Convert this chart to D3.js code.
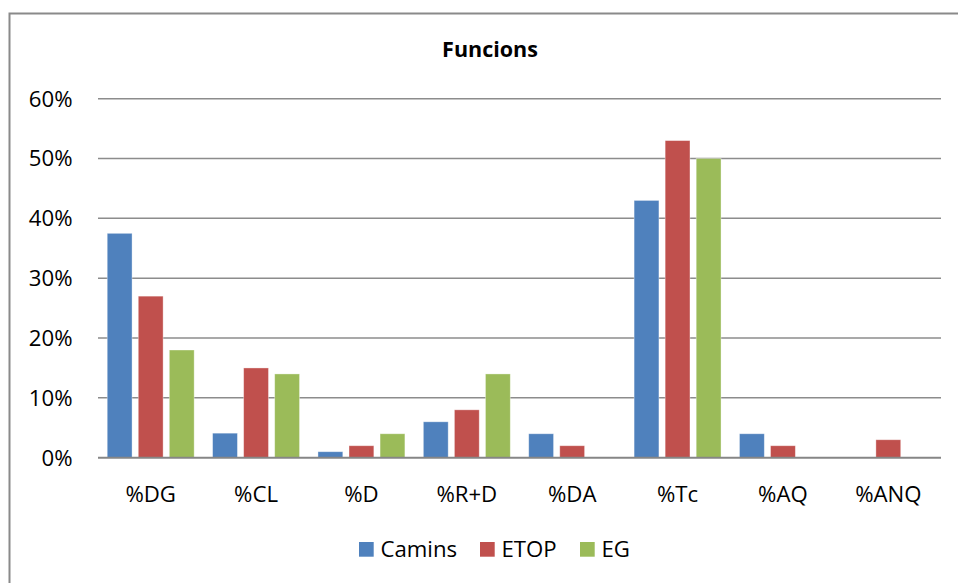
<!DOCTYPE html>
<html><head><meta charset="utf-8">
<script src="https://cdn.jsdelivr.net/npm/d3@7"></script>
<style>
html,body{margin:0;padding:0;background:#fff;}
svg{display:block;font-family:"Open Sans",sans-serif;}
</style></head>
<body>
<svg id="chart" width="958" height="583"></svg>
<script>
const categories = ["%DG","%CL","%D","%R+D","%DA","%Tc","%AQ","%ANQ"];
const seriesNames = ["Camins","ETOP","EG"];
const camins = [37.5, 4.1, 1, 6, 4, 43, 4, 0];
const etop = [27, 15, 2, 8, 2, 53, 2, 3];
const eg = [18, 14, 4, 14, 0, 50, 0, 0];
const colors = ["#4F81BD","#C0504D","#9BBB59"];
const yTicks = [0,10,20,30,40,50,60];
const title = "Funcions";

(function(){
const values = [camins, etop, eg];
const svg = d3.select("#chart");
const fs = 22.2;

// chart border (cropped at right/bottom)
svg.append("rect").attr("x",9.5).attr("y",13.5).attr("width",1000).attr("height",700)
  .attr("fill","none").attr("stroke","#8a8a8a").attr("stroke-width",2);

const pLeft = 98, pRight = 941, pTop = 98.7, pBottom = 457.7;
const x0 = d3.scaleBand().domain(categories).range([pLeft,pRight]).paddingInner(0.175).paddingOuter(0.0875);
const x1 = d3.scaleBand().domain(seriesNames).range([0,x0.bandwidth()]).paddingInner(0.2).paddingOuter(0);
const y = d3.scaleLinear().domain([0,60]).range([pBottom,pTop]);

// gridlines
svg.append("g").selectAll("line").data(yTicks.filter(d=>d>0)).join("line")
  .attr("x1",pLeft).attr("x2",pRight).attr("y1",d=>y(d)).attr("y2",d=>y(d))
  .attr("stroke","#8c8c8c").attr("stroke-width",1.5);

// y labels
svg.append("g").selectAll("text").data(yTicks).join("text")
  .attr("x",72.5).attr("y",d=>y(d)).attr("dy","0.355em").attr("text-anchor","end")
  .attr("font-size",fs).attr("fill","#000").text(d=>d+"%");

// bars
const groups = svg.append("g").selectAll("g").data(categories).join("g")
  .attr("transform",d=>`translate(${x0(d)},0)`);
groups.selectAll("rect").data((c,i)=>seriesNames.map((s,j)=>({s,j,v:values[j][i]})))
  .join("rect")
  .attr("x",d=>x1(d.s)).attr("width",x1.bandwidth())
  .attr("y",d=>y(d.v)).attr("height",d=>pBottom-y(d.v))
  .attr("fill",d=>colors[d.j])
  .attr("stroke",d=>d.v>0?"rgba(255,255,255,0.45)":"none").attr("stroke-width",0.8);

// x axis baseline
svg.append("line").attr("x1",pLeft).attr("x2",pRight).attr("y1",pBottom).attr("y2",pBottom)
  .attr("stroke","#868686").attr("stroke-width",2);

// x labels
svg.append("g").selectAll("text").data(categories).join("text")
  .attr("x",d=>x0(d)+x0.bandwidth()/2).attr("y",501.5).attr("text-anchor","middle")
  .attr("font-size",fs).attr("fill","#000").text(d=>d);

// title
svg.append("text").attr("x",490).attr("y",56.7).attr("text-anchor","middle")
  .attr("font-size",21.5).attr("font-weight","bold").attr("fill","#000").text(title);

// legend
const legendX = [359, 480, 580];
const lg = svg.append("g").selectAll("g").data(seriesNames).join("g")
  .attr("transform",(d,i)=>`translate(${legendX[i]},542)`);
lg.append("rect").attr("width",14.7).attr("height",14.7).attr("fill",(d,i)=>colors[i]);
lg.append("text").attr("x",21.5).attr("y",14.6).attr("font-size",fs).attr("fill","#000").text(d=>d);
})();
</script>
</body></html>
